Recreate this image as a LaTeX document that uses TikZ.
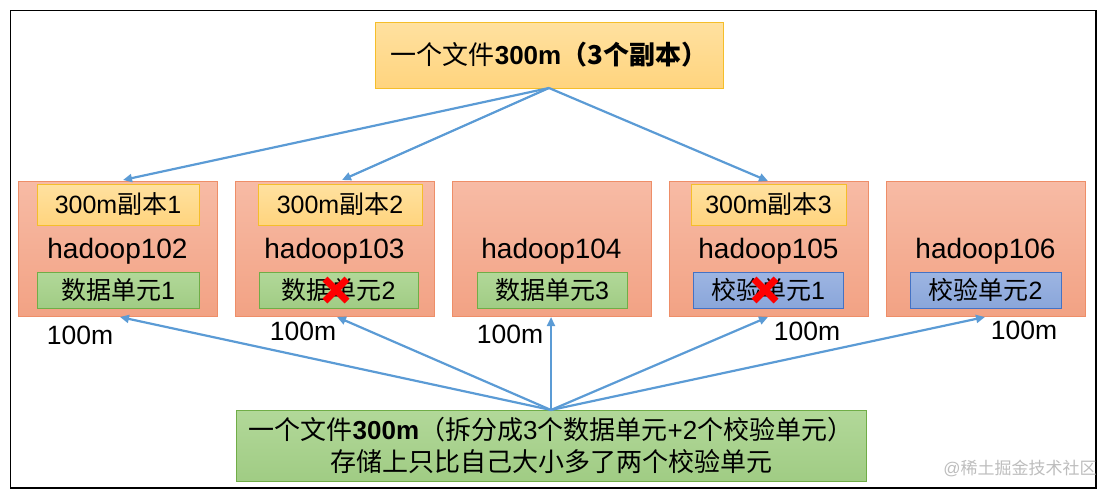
\documentclass[tikz,border=0pt]{standalone}
\usepackage{fontspec}
\setmainfont{Liberation Sans}
\newfontfamily\cjk{Noto Sans CJK SC}
\usetikzlibrary{arrows.meta}
\definecolor{arrowblue}{HTML}{5B9BD5}
\definecolor{srvtop}{HTML}{F7BBA5}
\definecolor{srvbot}{HTML}{F2A284}
\definecolor{srvdraw}{HTML}{EE8E68}
\definecolor{yeltop}{HTML}{FFE1A0}
\definecolor{yelbot}{HTML}{FFD47E}
\definecolor{yeldraw}{HTML}{F5BE2A}
\definecolor{grntop}{HTML}{B2D899}
\definecolor{grnbot}{HTML}{A0CC84}
\definecolor{grndraw}{HTML}{70AD47}
\definecolor{blutop}{HTML}{9DB5E2}
\definecolor{blubot}{HTML}{8AA6DA}
\definecolor{bludraw}{HTML}{4472C4}
\definecolor{wmgray}{HTML}{BDBDBD}
\tikzset{
  server/.style={draw=srvdraw, line width=0.8pt, top color=srvtop, bottom color=srvbot,
    minimum width=199pt, minimum height=135pt, inner sep=0pt},
  yelbox/.style={draw=yeldraw, line width=0.8pt, top color=yeltop, bottom color=yelbot,
    minimum height=41pt, inner sep=0pt, font=\fontsize{25}{27}\selectfont},
  grnbox/.style={draw=grndraw, line width=0.8pt, top color=grntop, bottom color=grnbot,
    minimum height=36pt, inner sep=0pt, font=\fontsize{25}{27}\selectfont},
  blubox/.style={draw=bludraw, line width=0.8pt, top color=blutop, bottom color=blubot,
    minimum height=36pt, inner sep=0pt, font=\fontsize{25}{27}\selectfont},
  hostlbl/.style={inner sep=0pt, font=\fontsize{28}{30}\selectfont},
  sizelbl/.style={inner sep=0pt, font=\fontsize{26.5}{28}\selectfont},
  link/.style={draw=arrowblue, line width=2.2pt, -{Triangle[length=9pt,width=8pt]}},
  crossmark/.style={draw=red, line width=7pt},
}
\begin{document}
\begin{tikzpicture}[x=1pt,y=-1pt]
\useasboundingbox (0,0) rectangle (1117,496);
\draw[line width=1.8pt] (10.5,10.5) rectangle (1096,488);

% top box
\node[draw=yeldraw, line width=0.8pt, top color=yeltop, bottom color=yelbot,
  minimum width=348pt, minimum height=66pt, inner sep=0pt,
  font=\fontsize{26}{28}\selectfont] (top) at (549,55)
  {{\cjk 一个文件}\textbf{300m}{\cjk\bfseries （3个副本）}};

% servers
\node[server] (s1) at (117.5,248.5) {};
\node[server] (s2) at (334.5,248.5) {};
\node[server] (s3) at (551.5,248.5) {};
\node[server] (s4) at (768.5,248.5) {};
\node[server] (s5) at (985.5,248.5) {};

\node[yelbox, minimum width=162pt] (r1) at (118,204.5) {300m{\cjk 副本}1};
\node[yelbox, minimum width=164pt] (r2) at (340,204.5) {300m{\cjk 副本}2};
\node[yelbox, minimum width=155pt] (r3) at (768.5,204.5) {300m{\cjk 副本}3};

\node[hostlbl] (h1) at (117.5,251) {hadoop102};
\node[hostlbl] (h2) at (334.5,251) {hadoop103};
\node[hostlbl] (h3) at (551.5,251) {hadoop104};
\node[hostlbl] (h4) at (768.5,251) {hadoop105};
\node[hostlbl] (h5) at (985.5,251) {hadoop106};

\node[grnbox, minimum width=162pt] (d1) at (118,290) {{\cjk 数据单元}1};
\node[grnbox, minimum width=159pt] (d2) at (338.5,290) {{\cjk 数据单元}2};
\node[grnbox, minimum width=150pt] (d3) at (552,290) {{\cjk 数据单元}3};
\node[blubox, minimum width=150pt] (p1) at (768,290) {{\cjk 校验单元}1};
\node[blubox, minimum width=151pt] (p2) at (985.5,290) {{\cjk 校验单元}2};

% red crosses
\coordinate (x2) at (336,290);
\coordinate (x4) at (765,290);
\draw[crossmark] ([shift={(-11,-11)}]x2) -- ([shift={(11,11)}]x2);
\draw[crossmark] ([shift={(-11,11)}]x2) -- ([shift={(11,-11)}]x2);
\draw[crossmark] ([shift={(-11,-11)}]x4) -- ([shift={(11,11)}]x4);
\draw[crossmark] ([shift={(-11,11)}]x4) -- ([shift={(11,-11)}]x4);

% size labels
\node[sizelbl] (m1) at (80,335) {100m};
\node[sizelbl] (m2) at (303,331) {100m};
\node[sizelbl] (m3) at (510,334) {100m};
\node[sizelbl] (m4) at (807,331) {100m};
\node[sizelbl] (m5) at (1024,330) {100m};

% bottom box
\node[draw=grndraw, line width=0.8pt, top color=grntop, bottom color=grnbot,
  minimum width=630pt, minimum height=71pt, inner sep=0pt, align=center,
  font=\fontsize{26}{32}\selectfont] (bot) at (551,445.5)
  {{\cjk 一个文件}\textbf{300m}{\cjk （拆分成}3{\cjk 个数据单元}+2{\cjk 个校验单元）}\\
   {\cjk 存储上只比自己大小多了两个校验单元}};

% arrows from top box
\coordinate (tsrc) at (549,88);
\coordinate (t1) at (123,180);
\coordinate (t2) at (342,180);
\coordinate (t4) at (768,181);
\draw[link] (tsrc) -- (t1);
\draw[link] (tsrc) -- (t2);
\draw[link] (tsrc) -- (t4);

% arrows from bottom box
\coordinate (bsrc) at (551,410);
\coordinate (b1) at (120,317);
\coordinate (b2) at (337,317);
\coordinate (b3) at (551,317);
\coordinate (b4) at (768,317);
\coordinate (b5) at (985,317);
\foreach \t in {b1,b2,b3,b4,b5} \draw[link] (bsrc) -- (\t);

% watermark
\node[inner sep=0pt, text=wmgray, font=\fontsize{17}{19}\selectfont] (wm) at (1020,468) {@{\cjk 稀土掘金技术社区}};
\end{tikzpicture}
\end{document}
